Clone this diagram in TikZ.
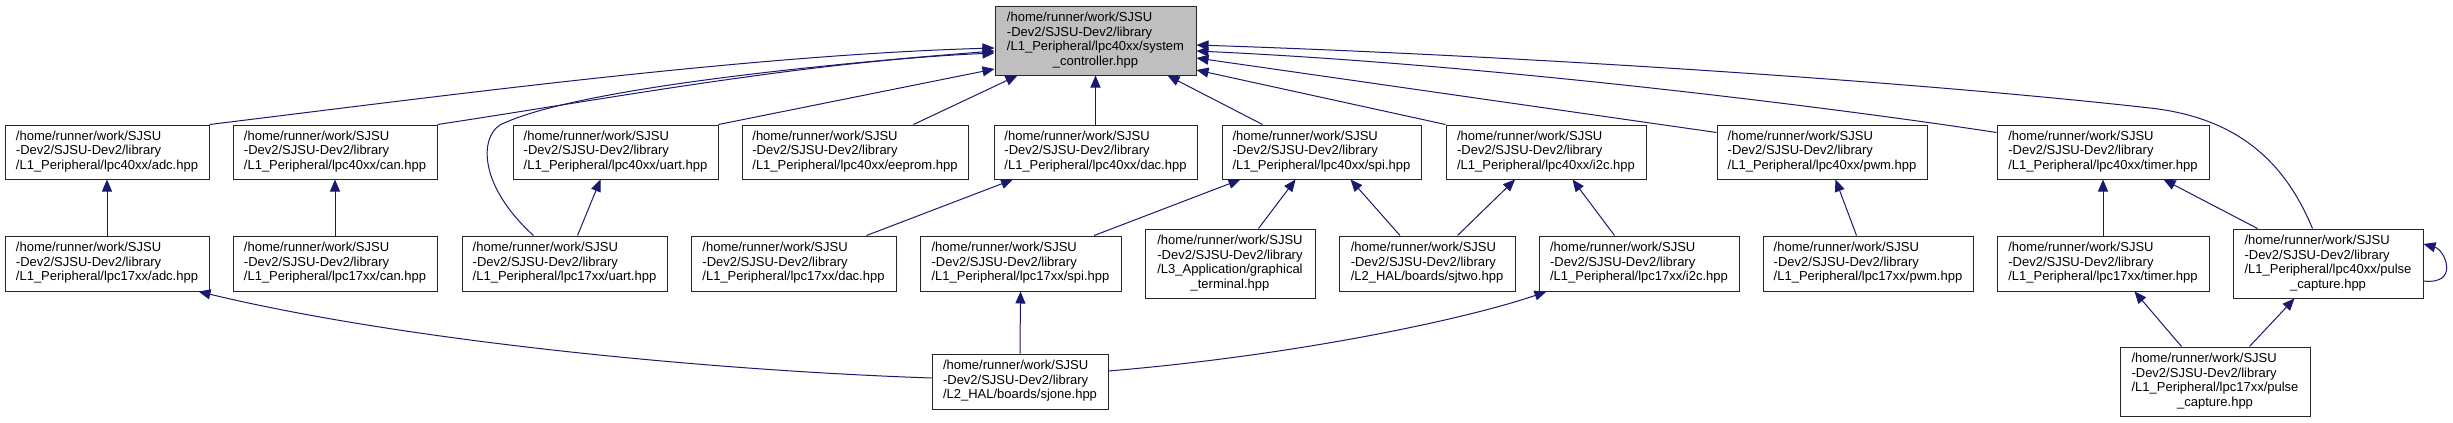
\documentclass[tikz,border=0pt]{standalone}
\usepackage{fontspec}
\setmainfont{Liberation Sans}
\usetikzlibrary{arrows.meta}
\definecolor{edgeblue}{HTML}{191970}
\definecolor{rootgray}{HTML}{BFBFBF}
\newcommand\nf{\fontsize{13}{14.5}\selectfont}
\newcommand\lblA[3]{\begin{tabular}{@{}l@{}}#1\\#2\\#3\end{tabular}}
\newcommand\lblB[4]{\begin{tabular}{@{}l@{}}#1\\#2\\#3\\\multicolumn{1}{@{}c@{}}{#4}\end{tabular}}
\newcommand\hmpath{/home/runner/work/SJSU}
\newcommand\devpath{-Dev2/SJSU-Dev2/library}
\begin{document}
\begin{tikzpicture}[x=1pt,y=-1pt,
  box/.style={draw=black!85, line width=1pt, fill=white, inner sep=0pt, font=\nf, minimum height=54pt},
  dep/.style={draw=edgeblue, line width=1pt, {Triangle[length=12pt,width=10pt]}-}]
\useasboundingbox (0,0) rectangle (2453,423);
\fill[white] (0,0) rectangle (2453,423);
% root
\node[box,fill=rootgray,minimum width=201pt,minimum height=69pt] (root) at (1095.5,40.5)
  {\lblB{\hmpath}{\devpath}{/L1\_Peripheral/lpc40xx/system}{\_controller.hpp}};
% row 1
\node[box,minimum width=204pt] (adc40) at (107,152) {\lblA{\hmpath}{\devpath}{/L1\_Peripheral/lpc40xx/adc.hpp}};
\node[box,minimum width=204pt] (can40) at (335,152) {\lblA{\hmpath}{\devpath}{/L1\_Peripheral/lpc40xx/can.hpp}};
\node[box,minimum width=205pt] (uart40) at (615.5,152) {\lblA{\hmpath}{\devpath}{/L1\_Peripheral/lpc40xx/uart.hpp}};
\node[box,minimum width=226pt] (eeprom) at (855,152) {\lblA{\hmpath}{\devpath}{/L1\_Peripheral/lpc40xx/eeprom.hpp}};
\node[box,minimum width=203pt] (dac40) at (1095.5,152) {\lblA{\hmpath}{\devpath}{/L1\_Peripheral/lpc40xx/dac.hpp}};
\node[box,minimum width=199pt] (spi40) at (1321.5,152) {\lblA{\hmpath}{\devpath}{/L1\_Peripheral/lpc40xx/spi.hpp}};
\node[box,minimum width=200pt] (i2c40) at (1546,152) {\lblA{\hmpath}{\devpath}{/L1\_Peripheral/lpc40xx/i2c.hpp}};
\node[box,minimum width=210pt] (pwm40) at (1822,152) {\lblA{\hmpath}{\devpath}{/L1\_Peripheral/lpc40xx/pwm.hpp}};
\node[box,minimum width=212pt] (timer40) at (2103,152) {\lblA{\hmpath}{\devpath}{/L1\_Peripheral/lpc40xx/timer.hpp}};
% row 2
\node[box,minimum width=204pt,minimum height=55pt] (adc17) at (107,263.5) {\lblA{\hmpath}{\devpath}{/L1\_Peripheral/lpc17xx/adc.hpp}};
\node[box,minimum width=204pt,minimum height=55pt] (can17) at (335,263.5) {\lblA{\hmpath}{\devpath}{/L1\_Peripheral/lpc17xx/can.hpp}};
\node[box,minimum width=205pt,minimum height=55pt] (uart17) at (564.5,263.5) {\lblA{\hmpath}{\devpath}{/L1\_Peripheral/lpc17xx/uart.hpp}};
\node[box,minimum width=205pt,minimum height=55pt] (dac17) at (793.5,263.5) {\lblA{\hmpath}{\devpath}{/L1\_Peripheral/lpc17xx/dac.hpp}};
\node[box,minimum width=201pt,minimum height=55pt] (spi17) at (1020.5,263.5) {\lblA{\hmpath}{\devpath}{/L1\_Peripheral/lpc17xx/spi.hpp}};
\node[box,minimum width=170pt,minimum height=69pt] (graphical) at (1230,263.5) {\lblB{\hmpath}{\devpath}{/L3\_Application/graphical}{\_terminal.hpp}};
\node[box,minimum width=176pt,minimum height=55pt] (sjtwo) at (1427,263.5) {\lblA{\hmpath}{\devpath}{/L2\_HAL/boards/sjtwo.hpp}};
\node[box,minimum width=200pt,minimum height=55pt] (i2c17) at (1639,263.5) {\lblA{\hmpath}{\devpath}{/L1\_Peripheral/lpc17xx/i2c.hpp}};
\node[box,minimum width=210pt,minimum height=55pt] (pwm17) at (1868,263.5) {\lblA{\hmpath}{\devpath}{/L1\_Peripheral/lpc17xx/pwm.hpp}};
\node[box,minimum width=212pt,minimum height=55pt] (timer17) at (2103,263.5) {\lblA{\hmpath}{\devpath}{/L1\_Peripheral/lpc17xx/timer.hpp}};
\node[box,minimum width=190pt,minimum height=69pt] (pulse40) at (2328,263.5) {\lblB{\hmpath}{\devpath}{/L1\_Peripheral/lpc40xx/pulse}{\_capture.hpp}};
% row 3
\node[box,minimum width=176pt,minimum height=55pt] (sjone) at (1020,381.5) {\lblA{\hmpath}{\devpath}{/L2\_HAL/boards/sjone.hpp}};
\node[box,minimum width=190pt,minimum height=69pt] (pulse17) at (2215,381.5) {\lblB{\hmpath}{\devpath}{/L1\_Peripheral/lpc17xx/pulse}{\_capture.hpp}};
% edges into root
\draw[dep] ([yshift=-7.5pt]root.west) .. controls (750,55) and (450,95) .. (adc40.north east);
\draw[dep] ([yshift=-10.5pt]root.west) .. controls (750,70) and (560,95) .. (500,125) .. controls (480,137.5) and (478,185) .. ([xshift=72pt]uart17.north west);
\draw[dep] ([yshift=-12.5pt]root.west) .. controls (810,61) and (600,100) .. (can40.north east);
\draw[dep] ([yshift=-28.5pt]root.west) -- (uart40.north east);
\draw[dep] ([xshift=23pt]root.south west) -- ([xshift=172pt]eeprom.north west);
\draw[dep] (root.south) -- (dac40.north);
\draw[dep] ([xshift=173pt]root.south west) -- ([xshift=41pt]spi40.north west);
\draw[dep] ([yshift=-29.5pt]root.east) -- (i2c40.north west);
\draw[dep] ([yshift=-17.5pt]root.east) -- ([yshift=-8pt]pwm40.north west);
\draw[dep] ([yshift=-10.5pt]root.east) .. controls (1500,65) and (1850,110) .. ([yshift=-8pt]timer40.north west);
\draw[dep] ([yshift=-4.5pt]root.east) .. controls (1500,55) and (1900,80) .. (2150,108) .. controls (2250,119) and (2290,175) .. ([xshift=80pt]pulse40.north west);
% row 1 to row 2
\draw[dep] (adc40.south) -- (adc17.north);
\draw[dep] (can40.south) -- (can17.north);
\draw[dep] ([xshift=88pt]uart40.south west) -- ([xshift=116pt]uart17.north west);
\draw[dep] ([xshift=19.5pt]dac40.south west) -- ([xshift=176pt]dac17.north west);
\draw[dep] ([xshift=19pt]spi40.south west) -- ([xshift=174.6pt]spi17.north west);
\draw[dep] ([xshift=74pt]spi40.south west) -- ([xshift=114pt]graphical.north west);
\draw[dep] ([xshift=129pt]spi40.south west) -- ([xshift=61.5pt]sjtwo.north west);
\draw[dep] ([xshift=69.6pt]i2c40.south west) -- ([xshift=119pt]sjtwo.north west);
\draw[dep] ([xshift=127pt]i2c40.south west) -- ([xshift=76pt]i2c17.north west);
\draw[dep] ([xshift=119pt]pwm40.south west) -- ([xshift=94pt]pwm17.north west);
\draw[dep] (timer40.south) -- (timer17.north);
\draw[dep] ([xshift=167pt]timer40.south west) -- ([xshift=25pt]pulse40.north west);
\draw[dep] ([yshift=19.5pt]pulse40.east) .. controls (2445,250) and (2460,285) .. ([yshift=-17.5pt]pulse40.east);
% row 2 to row 3
\draw[dep] (spi17.south) -- (sjone.north);
\draw[dep] ([xshift=194pt]adc17.south west) .. controls (400,340) and (700,370) .. ([yshift=3.5pt]sjone.west);
\draw[dep] ([xshift=8pt]i2c17.south west) .. controls (1470,318) and (1300,355) .. ([yshift=10.5pt]sjone.east);
\draw[dep] ([xshift=138pt]timer17.south west) -- ([xshift=62pt]pulse17.north west);
\draw[dep] ([xshift=62pt]pulse40.south west) -- ([xshift=130pt]pulse17.north west);
\end{tikzpicture}
\end{document}
